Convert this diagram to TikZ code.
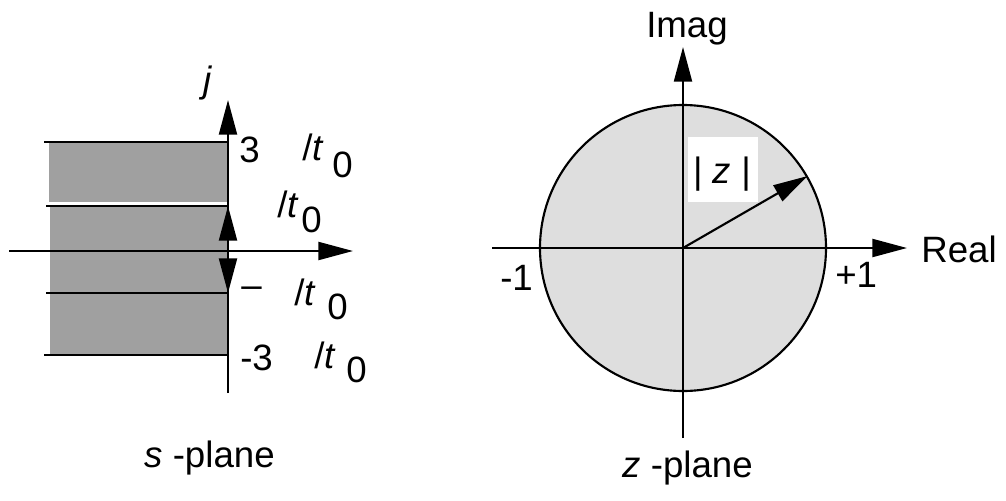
\documentclass[tikz,border=0pt]{standalone}
\usepackage{fontspec}
\setmainfont{Liberation Sans}
\usetikzlibrary{arrows.meta}
\definecolor{stripgray}{HTML}{A0A0A0}
\definecolor{discgray}{HTML}{DEDEDE}
\begin{document}
\begin{tikzpicture}[x=0.75pt,y=-0.75pt,
  lbl/.style={inner sep=0pt,anchor=base west,font=\fontsize{27.5}{32}\selectfont},
  clbl/.style={inner sep=0pt,anchor=base,font=\fontsize{27.5}{32}\selectfont},
  axisline/.style={line width=1.6pt},
  bigtip/.style={-{Triangle[length=26pt,width=13.5pt]}},
  stripline/.style={line width=1.6pt}]
\useasboundingbox (0,0) rectangle (1006,500);

% ---------- s-plane ----------
\fill[stripgray] (49,142) rectangle (228,202);
\fill[stripgray] (50,206) rectangle (228,355);
\coordinate (l1a) at (44,142); \coordinate (l1b) at (228,142);
\coordinate (l2a) at (46,206); \coordinate (l2b) at (228,206);
\coordinate (l3a) at (46,293); \coordinate (l3b) at (228,293);
\coordinate (l4a) at (44,355); \coordinate (l4b) at (228,355);
\draw[stripline] (l1a) -- (l1b);
\draw[stripline] (l2a) -- (l2b);
\draw[stripline] (l3a) -- (l3b);
\draw[stripline] (l4a) -- (l4b);
\coordinate (sjb) at (228,393); \coordinate (sjt) at (228,100);
\coordinate (sxl) at (9,251); \coordinate (sxr) at (353,251);
\coordinate (so) at (228,251);
\draw[axisline,bigtip] (sjb) -- (sjt);
\draw[axisline,bigtip] (sxl) -- (sxr);
\draw[axisline,bigtip] (so) -- (l2b);
\draw[axisline,bigtip] (so) -- (l3b);

\node[lbl] (jlab) at (203,92) {\textit{j}};
\node[lbl] (t3) at (239,162) {3};
\node[lbl] (t3s) at (302,160) {/\textit{t}};
\node[lbl] (t3z) at (332,177) {0};
\node[lbl] (t1s) at (277,217) {/\textit{t}};
\node[lbl] (t1z) at (301,232) {0};
\node[lbl] (tm) at (241,297) {–};
\node[lbl] (tms) at (294,305) {/\textit{t}};
\node[lbl] (tmz) at (327,319) {0};
\node[lbl] (tm3) at (240,370) {-3};
\node[lbl] (tm3s) at (314,368) {/\textit{t}};
\node[lbl] (tm3z) at (346,382) {0};
\node[lbl] (splane) at (144,467) {\textit{s} -plane};

% ---------- z-plane ----------
\node[circle,draw,line width=1.6pt,fill=discgray,minimum size=286pt*0.75,inner sep=0pt] (disc) at (683,248) {};
\coordinate (zyb) at (683,438); \coordinate (zyt) at (683,47);
\coordinate (zxl) at (492,248); \coordinate (zxr) at (907,248);
\draw[axisline,bigtip] (zyb) -- (zyt);
\draw[axisline,bigtip] (zxl) -- (zxr);
\fill[white] (688,137) rectangle (758,202);
\node[clbl] (zabs) at (722,183) {| \textit{z} |};
\draw[axisline,bigtip] (disc.center) -- (disc.30);

\node[clbl] (imag) at (687,37) {Imag};
\node[lbl] (real) at (921,262) {Real};
\node[lbl] (m1) at (500,290) {-1};
\node[lbl] (p1) at (835,287) {+1};
\node[lbl] (zplane) at (622,477) {\textit{z} -plane};
\end{tikzpicture}
\end{document}
